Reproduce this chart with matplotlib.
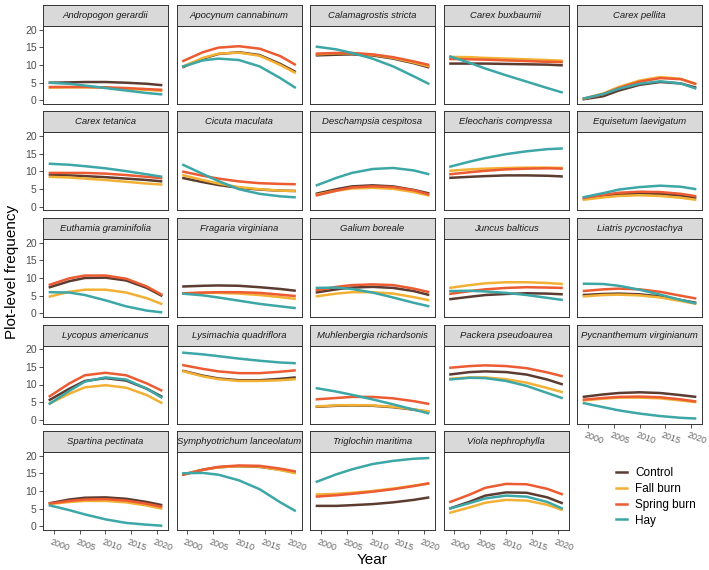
import numpy as np
import matplotlib
matplotlib.use("Agg")
import matplotlib.pyplot as plt
import matplotlib.transforms as mtransforms
from matplotlib.lines import Line2D

plt.rcParams['font.family'] = ['Liberation Sans', 'DejaVu Sans']

species = ["Andropogon gerardii", "Apocynum cannabinum", "Calamagrostis stricta",
           "Carex buxbaumii", "Carex pellita", "Carex tetanica", "Cicuta maculata",
           "Deschampsia cespitosa", "Eleocharis compressa", "Equisetum laevigatum",
           "Euthamia graminifolia", "Fragaria virginiana", "Galium boreale",
           "Juncus balticus", "Liatris pycnostachya", "Lycopus americanus",
           "Lysimachia quadriflora", "Muhlenbergia richardsonis", "Packera pseudoaurea",
           "Pycnanthemum virginianum", "Spartina pectinata", "Symphyotrichum lanceolatum",
           "Triglochin maritima", "Viola nephrophylla"]

years = [1999, 2003, 2006, 2010, 2014, 2018, 2021]

# fitted trend values, one row per species
control = [
    [5.0, 5.1, 5.2, 5.2, 5.0, 4.7, 4.3],
    [9.3, 11.8, 13.1, 13.6, 12.8, 10.3, 8.0],
    [12.7, 12.9, 13.0, 12.7, 11.8, 10.5, 9.3],
    [10.4, 10.4, 10.4, 10.3, 10.2, 10.1, 9.9],
    [0.3, 1.2, 2.8, 4.4, 5.2, 4.8, 3.6],
    [9.0, 8.9, 8.7, 8.4, 8.0, 7.6, 7.2],
    [8.2, 7.0, 6.2, 5.4, 4.9, 4.6, 4.5],
    [3.7, 5.0, 5.8, 6.1, 5.8, 4.8, 3.8],
    [8.2, 8.5, 8.7, 8.9, 8.9, 8.8, 8.6],
    [2.3, 3.0, 3.5, 3.8, 3.7, 3.2, 2.5],
    [7.3, 9.1, 10.0, 10.1, 9.3, 7.2, 4.9],
    [7.6, 7.8, 7.9, 7.8, 7.4, 6.9, 6.4],
    [5.9, 6.8, 7.3, 7.5, 7.2, 6.3, 5.2],
    [4.0, 4.7, 5.2, 5.5, 5.7, 5.6, 5.4],
    [5.2, 5.5, 5.6, 5.4, 4.8, 3.8, 3.0],
    [5.5, 8.8, 11.0, 11.8, 11.1, 8.8, 6.5],
    [13.9, 12.5, 11.7, 11.2, 11.2, 11.6, 12.0],
    [3.7, 4.0, 4.1, 4.0, 3.6, 2.9, 2.3],
    [12.8, 13.5, 13.7, 13.5, 12.8, 11.4, 10.0],
    [6.5, 7.2, 7.6, 7.8, 7.6, 7.0, 6.5],
    [6.5, 7.6, 8.1, 8.2, 7.8, 6.9, 6.0],
    [14.6, 16.0, 16.7, 17.0, 16.8, 16.0, 15.2],
    [5.8, 5.8, 6.0, 6.3, 6.8, 7.5, 8.2],
    [5.0, 7.0, 8.7, 9.6, 9.5, 8.2, 6.5],
]

fall_burn = [
    [3.6, 3.7, 3.7, 3.6, 3.3, 3.0, 2.7],
    [9.5, 12.0, 13.2, 13.5, 12.6, 10.0, 7.7],
    [13.0, 13.3, 13.3, 12.9, 12.0, 10.7, 9.6],
    [12.3, 12.2, 12.0, 11.8, 11.6, 11.4, 11.2],
    [0.4, 2.0, 3.8, 5.6, 6.6, 6.1, 4.6],
    [8.5, 8.3, 8.0, 7.6, 7.1, 6.6, 6.3],
    [9.0, 7.6, 6.6, 5.6, 5.0, 4.6, 4.5],
    [3.4, 4.6, 5.2, 5.4, 5.1, 4.2, 3.2],
    [10.2, 10.6, 10.8, 11.0, 11.1, 11.1, 11.0],
    [2.0, 2.7, 3.1, 3.3, 3.1, 2.6, 2.0],
    [4.7, 6.1, 6.7, 6.7, 5.9, 4.3, 2.6],
    [5.6, 5.8, 5.8, 5.6, 5.2, 4.6, 4.1],
    [4.8, 5.6, 6.0, 6.0, 5.6, 4.6, 3.7],
    [7.2, 8.0, 8.5, 8.8, 8.8, 8.6, 8.3],
    [4.8, 5.2, 5.3, 5.1, 4.5, 3.5, 2.7],
    [4.5, 7.4, 9.2, 9.8, 9.1, 7.0, 4.7],
    [13.8, 12.3, 11.5, 11.0, 11.0, 11.2, 11.5],
    [3.8, 4.1, 4.2, 4.1, 3.7, 3.0, 2.4],
    [11.6, 12.0, 12.0, 11.5, 10.5, 9.0, 7.8],
    [5.5, 6.0, 6.3, 6.3, 6.1, 5.5, 5.0],
    [6.3, 6.9, 7.2, 7.2, 6.8, 5.9, 5.0],
    [14.6, 16.0, 16.7, 17.0, 16.9, 15.9, 15.0],
    [9.0, 9.2, 9.5, 10.0, 10.7, 11.5, 12.1],
    [3.8, 5.4, 6.7, 7.5, 7.3, 6.1, 4.6],
]

spring_burn = [
    [3.8, 3.8, 3.8, 3.7, 3.5, 3.2, 3.0],
    [11.0, 13.6, 14.9, 15.3, 14.6, 12.5, 10.0],
    [13.2, 13.4, 13.4, 13.0, 12.2, 11.0, 10.0],
    [11.7, 11.6, 11.5, 11.3, 11.1, 10.9, 10.8],
    [0.4, 1.8, 3.5, 5.3, 6.3, 6.0, 4.6],
    [9.6, 9.6, 9.6, 9.4, 9.0, 8.5, 8.1],
    [10.0, 8.8, 8.0, 7.2, 6.7, 6.5, 6.4],
    [3.2, 4.6, 5.5, 5.8, 5.6, 4.7, 3.5],
    [9.2, 9.8, 10.2, 10.6, 10.8, 10.9, 10.8],
    [2.5, 3.4, 4.0, 4.3, 4.2, 3.7, 3.0],
    [8.0, 9.9, 10.7, 10.7, 9.8, 7.6, 5.2],
    [5.7, 5.9, 6.0, 6.0, 5.8, 5.3, 4.9],
    [6.5, 7.5, 8.0, 8.2, 8.0, 7.0, 6.0],
    [5.5, 6.3, 6.8, 7.2, 7.4, 7.3, 7.2],
    [6.3, 6.8, 7.0, 6.8, 6.1, 5.0, 4.2],
    [6.5, 10.3, 12.6, 13.3, 12.6, 10.3, 8.2],
    [15.5, 14.4, 13.7, 13.2, 13.2, 13.6, 14.0],
    [5.8, 6.2, 6.5, 6.5, 6.1, 5.3, 4.5],
    [14.7, 15.2, 15.4, 15.2, 14.6, 13.4, 12.3],
    [5.7, 6.2, 6.5, 6.6, 6.4, 5.8, 5.2],
    [6.4, 7.2, 7.6, 7.7, 7.3, 6.4, 5.5],
    [14.5, 16.0, 16.8, 17.2, 17.1, 16.3, 15.5],
    [8.4, 8.8, 9.2, 9.8, 10.5, 11.4, 12.2],
    [6.8, 9.0, 10.9, 12.0, 11.9, 10.6, 9.0],
]

hay = [
    [5.0, 4.7, 4.2, 3.5, 2.8, 2.1, 1.7],
    [9.5, 11.3, 11.8, 11.4, 9.6, 6.3, 3.5],
    [15.2, 14.4, 13.4, 11.8, 9.6, 6.8, 4.6],
    [12.5, 10.6, 9.0, 7.1, 5.3, 3.5, 2.2],
    [0.5, 1.8, 3.3, 4.7, 5.4, 4.8, 3.3],
    [12.2, 11.9, 11.5, 10.9, 10.1, 9.2, 8.5],
    [12.0, 9.3, 7.3, 5.0, 3.7, 3.0, 2.7],
    [6.0, 8.2, 9.6, 10.7, 11.0, 10.3, 9.2],
    [11.3, 12.8, 13.8, 14.9, 15.7, 16.3, 16.5],
    [2.7, 3.9, 4.9, 5.6, 6.0, 5.7, 5.0],
    [6.0, 5.9, 5.2, 3.7, 2.0, 0.8, 0.3],
    [5.6, 5.1, 4.5, 3.6, 2.7, 2.0, 1.5],
    [7.2, 7.3, 6.9, 5.9, 4.5, 3.0, 2.0],
    [6.3, 6.4, 6.2, 5.8, 5.2, 4.4, 3.8],
    [8.4, 8.3, 7.8, 6.7, 5.3, 3.8, 2.8],
    [4.4, 8.2, 10.8, 12.0, 11.4, 8.8, 6.2],
    [19.0, 18.5, 18.0, 17.3, 16.7, 16.2, 16.0],
    [9.0, 8.0, 7.1, 5.8, 4.4, 2.9, 1.8],
    [11.4, 11.9, 11.8, 11.0, 9.6, 7.6, 6.1],
    [4.8, 3.6, 2.7, 1.8, 1.1, 0.6, 0.4],
    [6.0, 4.6, 3.4, 2.0, 1.0, 0.5, 0.2],
    [15.0, 15.1, 14.6, 13.0, 10.5, 6.8, 4.3],
    [12.5, 14.7, 16.1, 17.6, 18.5, 19.1, 19.3],
    [5.0, 6.6, 7.9, 8.7, 8.4, 6.9, 5.0],
]

treatments = ["Control", "Fall burn", "Spring burn", "Hay"]
colors = ["#5C3B30", "#F2B134", "#EC5B31", "#3DA6A6"]
series = [control, fall_burn, spring_burn, hay]

W, H = 709, 570
fig = plt.figure(figsize=(W / 100, H / 100), dpi=100)

col_left = [43, 176.5, 310, 443.5, 577]
row_top = [5, 111.5, 218, 324.5, 431]
pw, strip_h, ph = 125, 21, 78
border = "#333333"
tick_col = "#4D4D4D"

# nudge rotated year labels a little to the left
nudge = mtransforms.ScaledTranslation(-2 / 100, 0, fig.dpi_scale_trans)

for i, name in enumerate(species):
    r, c = divmod(i, 5)
    x0 = col_left[c]
    y_strip = row_top[r]
    y_panel = y_strip + strip_h
    ax = fig.add_axes([x0 / W, 1 - (y_panel + ph) / H, pw / W, ph / H])
    sax = fig.add_axes([x0 / W, 1 - (y_panel) / H, pw / W, strip_h / H])
    sax.set_facecolor("#D9D9D9")
    sax.set_xticks([])
    sax.set_yticks([])
    for s in sax.spines.values():
        s.set_color(border)
        s.set_linewidth(0.7)
    sax.text(0.5, 0.5, name, ha="center", va="center", style="italic",
             fontsize=6.8, color="#1A1A1A", transform=sax.transAxes)

    for vals, col in zip(series, colors):
        ax.plot(years, vals[i], color=col, lw=1.8, solid_capstyle="butt")

    ax.set_xlim(1997.9, 2022.1)
    ax.set_ylim(-1, 21)
    for s in ax.spines.values():
        s.set_color(border)
        s.set_linewidth(0.7)
    ax.set_yticks([0, 5, 10, 15, 20])
    ax.set_xticks([2000, 2005, 2010, 2015, 2020])
    ax.tick_params(length=3, width=0.6, color=border, labelsize=7.5,
                   labelcolor=tick_col, pad=1.5)
    if c != 0:
        ax.tick_params(axis="y", left=False, labelleft=False)
    bottom_panel = (r == 4) or (r == 3 and c == 4)
    if bottom_panel:
        ax.set_xticklabels(["2000", "2005", "2010", "2015", "2020"],
                           rotation=-20, ha="left", va="top",
                           rotation_mode="anchor", fontsize=6.5, color="#666666")
        ax.tick_params(axis="x", pad=2)
        for lab in ax.get_xticklabels():
            lab.set_transform(lab.get_transform() + nudge)
    else:
        ax.tick_params(axis="x", bottom=False, labelbottom=False)

fig.text(12 / W, 1 - 272 / H, "Plot-level frequency", rotation=90,
         ha="center", va="center", fontsize=11)
fig.text(372 / W, 1 - 560 / H, "Year", ha="center", va="center", fontsize=11)

handles = [Line2D([0], [0], color=col, lw=1.8) for col in colors]
fig.legend(handles, treatments, loc="upper left",
           bbox_to_anchor=(610 / W, 1 - 461 / H), frameon=False,
           fontsize=8.5, handlelength=0.9, handletextpad=0.75,
           labelspacing=0.33, borderpad=0)

fig.savefig("out.png", dpi=100)
